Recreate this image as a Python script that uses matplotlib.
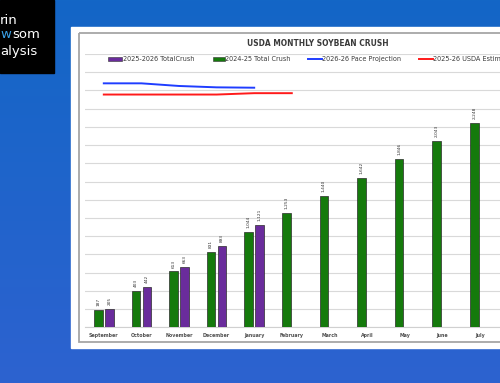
import numpy as np
import matplotlib
matplotlib.use("Agg")
import matplotlib.pyplot as plt
from matplotlib.patches import Rectangle
from matplotlib.colors import to_rgb

# ---------------- data ----------------
months = ["September", "October", "November", "December", "January", "February",
          "March", "April", "May", "June", "July"]
crush_2024_25 = [187, 403, 613, 831, 1044, 1253, 1440, 1642, 1846, 2043, 2248]
crush_2025_26 = [205, 442, 663, 893, 1121]
pace_projection = [2678, 2678, 2649, 2634, 2630]
usda_estimate = [2555, 2555, 2555, 2555, 2570, 2570]
legend_labels = ["2025-2026 TotalCrush", "2024-25 Total Crush",
                 "2026-26 Pace Projection", "2025-26 USDA Estimate"]
title = "USDA MONTHLY SOYBEAN CRUSH"

GREEN = "#157a0c"
PURPLE = "#6a2c9c"
BLUE = "#1f3dff"
RED = "#ff1a1a"
TXT = "#3a3a3a"

W, H = 500, 383
fig = plt.figure(figsize=(W / 100, H / 100), dpi=100)

# ---------------- background (pixel coordinate axes) ----------------
bg = fig.add_axes([0, 0, 1, 1])
bg.set_xlim(0, W)
bg.set_ylim(H, 0)
bg.axis("off")
top_c = np.array(to_rgb("#1366c6"))
bot_c = np.array(to_rgb("#2d62d0"))
t = np.linspace(0, 1, 200)[:, None, None]
grad = top_c * (1 - t) + bot_c * t
grad = np.repeat(grad, 2, axis=1)
bg.imshow(grad, extent=[0, W, H, 0], aspect="auto", zorder=0)

# logo block
bg.add_patch(Rectangle((0, 0), 54, 73, color="black", zorder=1))
bg.text(0, 20, "rin", color="white", fontsize=9.5, va="center", ha="left", zorder=2)
bg.text(0, 35, "w", color="#3aa0e6", fontsize=9.5, va="center", ha="left", zorder=2)
bg.text(12.5, 35, "som", color="white", fontsize=9.5, va="center", ha="left", zorder=2)
bg.text(0, 51, "alysis", color="white", fontsize=9.5, va="center", ha="left", zorder=2)

# white panel and chart border
bg.add_patch(Rectangle((71, 27), 440, 320.5, color="white", zorder=1))
bg.add_patch(Rectangle((78.5, 32.5), 440, 309.5, facecolor="none",
                       edgecolor="#a6a6a6", lw=1.3, zorder=2))

# title
bg.text(318, 43.5, title, fontsize=5.45, fontweight="bold", color=TXT,
        ha="center", va="center", zorder=3)

# legend (manual, Excel-like single row)
ly = 59
bg.add_patch(Rectangle((108, ly - 2.2), 14, 4.4, facecolor=PURPLE,
                       edgecolor="#333333", lw=0.4, zorder=3))
bg.text(123, ly, legend_labels[0], fontsize=4.7, color=TXT, va="center", ha="left", zorder=3)
bg.add_patch(Rectangle((213, ly - 2.2), 11.5, 4.4, facecolor=GREEN,
                       edgecolor="#333333", lw=0.4, zorder=3))
bg.text(225, ly, legend_labels[1], fontsize=4.7, color=TXT, va="center", ha="left", zorder=3)
bg.plot([308, 322], [ly, ly], color=BLUE, lw=1.4, zorder=3)
bg.text(322, ly, legend_labels[2], fontsize=4.7, color=TXT, va="center", ha="left", zorder=3)
bg.plot([419, 433], [ly, ly], color=RED, lw=1.4, zorder=3)
bg.text(433, ly, legend_labels[3], fontsize=4.7, color=TXT, va="center", ha="left", zorder=3)

# ---------------- chart axes ----------------
base_y = 327.3
px_per_unit = 0.0911
ymax = 3000
ax_h = ymax * px_per_unit
ax_left, ax_w = 85, 37.6 * 12
ax = fig.add_axes([ax_left / W, 1 - base_y / H, ax_w / W, ax_h / H])
ax.set_facecolor("none")
ax.set_zorder(5)
ax.set_xlim(-0.5, 11.5)
ax.set_ylim(0, ymax)

ax.set_yticks(np.arange(0, ymax + 1, 200))
ax.yaxis.grid(True, color="#d9d9d9", lw=0.8)
ax.set_axisbelow(True)
ax.tick_params(axis="y", length=0, labelleft=False)
for s in ["top", "right", "left"]:
    ax.spines[s].set_visible(False)
ax.spines["bottom"].set_color("#d0d0d0")
ax.spines["bottom"].set_linewidth(0.8)

ax.set_xticks(range(len(months)))
ax.set_xticklabels(months, fontsize=3.4, color="#505050", fontweight="bold")
ax.tick_params(axis="x", length=0, pad=4)

bw = 0.23
off = 0.146
xg = np.arange(len(crush_2024_25)) - off
xp = np.arange(len(crush_2025_26)) + off
ax.bar(xg, crush_2024_25, width=bw, color=GREEN, edgecolor="#2b2b2b", lw=0.5, zorder=3)
ax.bar(xp, crush_2025_26, width=bw, color=PURPLE, edgecolor="#2b2b2b", lw=0.5, zorder=3)

for x, v in zip(xg, crush_2024_25):
    ax.annotate(f"{v:,}", (x, v), xytext=(0, 2.8), textcoords="offset points",
                rotation=90, ha="center", va="bottom", fontsize=3.1, color="#303030")
for x, v in zip(xp, crush_2025_26):
    ax.annotate(f"{v:,}", (x, v), xytext=(0, 2.8), textcoords="offset points",
                rotation=90, ha="center", va="bottom", fontsize=3.1, color="#303030")

ax.plot(range(len(pace_projection)), pace_projection, color=BLUE, lw=1.4, zorder=4)
ax.plot(range(len(usda_estimate)), usda_estimate, color=RED, lw=1.4, zorder=4)

fig.savefig("out.png", dpi=100)
